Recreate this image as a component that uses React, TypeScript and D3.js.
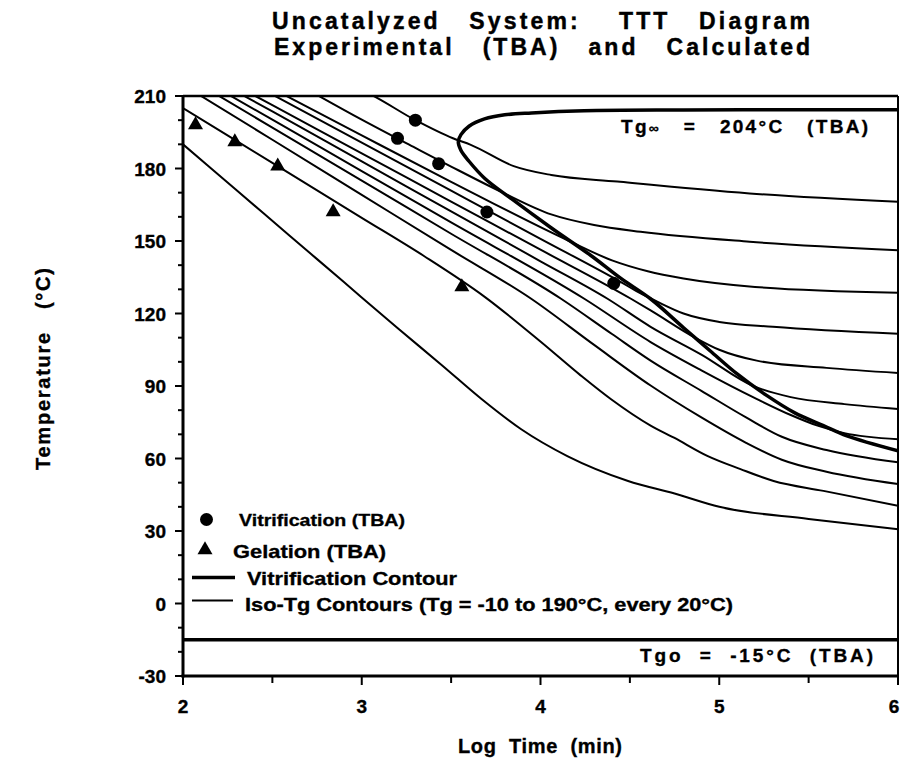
import React from "react";
import * as d3 from "d3";

type P = [number, number];

// ---- axis ticks ----
const LOG_TIME_TICKS = [2, 3, 4, 5, 6];
const TEMP_TICKS = [-30, 0, 30, 60, 90, 120, 150, 180, 210];

// ---- experimental points (log time, temperature) ----
const VITRIFICATION_TBA: P[] = [[3.2, 192.5], [3.3, 200], [3.43, 182], [3.7, 162], [4.41, 132.5]];
const GELATION_TBA: P[] = [[2.07, 198], [2.29, 191], [2.53, 181], [2.84, 162], [3.56, 131]];

// ---- iso-Tg contours ----
const ISO_TG_M10: P[] = [[2.0, 190], [2.3, 171], [2.6, 152], [2.9, 133], [3.2, 114], [3.45, 98.5], [3.67, 84.6], [3.89, 72.2], [4.15, 61], [4.49, 50.7], [4.75, 45.5], [5.0, 40], [5.5, 35], [6.0, 30.7]];
const ISO_TG_10: P[] = [[2.0, 205], [2.5, 182.3], [3.0, 159.6], [3.35, 143.7], [3.686, 127], [4.003, 108.2], [4.226, 94.3], [4.393, 84.6], [4.616, 73.6], [4.747, 68.6], [4.933, 61.1], [5.119, 55.6], [5.304, 50.7], [5.583, 46.6], [6.0, 40.4]];
const ISO_TG_30: P[] = [[2.0, 214.6], [2.5, 191.9], [3.0, 169.1], [3.5, 146.3], [3.948, 126.1], [4.3, 107], [4.616, 90.2], [4.9, 77], [5.15, 66.5], [5.35, 59.5], [5.6, 54.5], [6.0, 49.4]];
const ISO_TG_50: P[] = [[2.1, 214.5], [2.5, 196.9], [3.0, 175], [3.5, 153], [4.115, 126.1], [4.4, 111.5], [4.616, 100.5], [4.9, 88], [5.15, 77], [5.35, 69], [5.6, 63.5], [6.0, 58.4]];
const ISO_TG_70: P[] = [[2.15, 215], [2.5, 200.2], [3.0, 178.9], [3.5, 157.7], [4.245, 126.1], [4.616, 108.2], [4.9, 96.5], [5.2, 85], [5.4, 78], [5.55, 73.6], [5.7, 70.5], [6.0, 68]];
const ISO_TG_90: P[] = [[2.22, 215], [2.5, 203.6], [3.0, 182.9], [3.5, 162.3], [4.0, 141.6], [4.375, 126.1], [4.616, 114.5], [4.9, 103], [5.19, 90], [5.4, 85.4], [5.7, 82.5], [6.0, 80.5]];
const ISO_TG_110: P[] = [[2.28, 215], [2.5, 206.2], [3.0, 186.3], [3.5, 166.3], [4.0, 146.4], [4.506, 126.1], [4.616, 121.3], [4.865, 110], [5.0, 105], [5.21, 100.5], [5.6, 97.5], [6.0, 95.4]];
const ISO_TG_130: P[] = [[2.39, 215], [2.5, 210.6], [3.0, 190.7], [3.5, 170.8], [4.0, 150.9], [4.45, 133], [4.56, 128.3], [4.65, 125], [4.8, 120], [5.0, 116.5], [5.3, 114.5], [6.0, 111.6]];
const ISO_TG_150: P[] = [[2.45, 215], [3.0, 193.7], [3.5, 174.5], [4.16, 150], [4.4, 142], [4.6, 137.5], [4.8, 134.5], [5.2, 131], [6.0, 128.6]];
const ISO_TG_170: P[] = [[2.64, 215], [3.0, 200.2], [3.3, 188.5], [3.5, 180.8], [3.79, 170], [4.06, 161], [4.3, 156.6], [4.56, 153.8], [5.17, 149.7], [6.0, 146.2]];
const ISO_TG_190: P[] = [[2.95, 214], [3.04, 211], [3.3, 200], [3.51, 192.5], [3.61, 189.8], [3.85, 181], [4.06, 177.3], [4.43, 174.6], [5.17, 169.7], [6.0, 166.2]];

const ISO_TG_CONTOURS = [ISO_TG_M10, ISO_TG_10, ISO_TG_30, ISO_TG_50, ISO_TG_70, ISO_TG_90, ISO_TG_110, ISO_TG_130, ISO_TG_150, ISO_TG_170, ISO_TG_190];

// ---- vitrification contour (ordered along the curve) ----
const VITRIFICATION_CONTOUR: P[] = [
  [6.0, 204.3], [5.5, 204.3], [4.8, 204.2], [4.244, 203.9], [3.95, 203], [3.8, 202.2], [3.687, 200.5], [3.6, 197.5], [3.555, 194], [3.54, 191],
  [3.555, 187.5], [3.6, 183], [3.687, 176], [3.835, 167.6], [4.059, 155.5], [4.282, 144], [4.45, 134.5], [4.617, 126], [4.802, 114], [4.95, 104.5],
  [5.1, 95], [5.267, 86], [5.42, 79], [5.583, 73.6], [5.714, 69.4], [6.0, 63.2],
];

const TGO = -15;

const FONT = "'Liberation Sans', Arial, Helvetica, sans-serif";
const S = "\u00A0";

export default function App() {
  const W = 901, H = 777;
  const x = d3.scaleLinear().domain([2, 6]).range([183, 898]);
  const y = d3.scaleLinear().domain([-30, 210]).range([676, 96]);
  const [x0, x1] = x.range();
  const [yb, yt] = y.range();

  const isoLine = d3.line<P>().x(d => x(d[0])).y(d => y(d[1])).curve(d3.curveMonotoneX);
  const vitLine = d3.line<P>().x(d => x(d[0])).y(d => y(d[1])).curve(d3.curveCatmullRom.alpha(0.5));

  const yMinor = d3.range(-30, 211, 10);
  const xMinor = d3.range(2, 6.01, 0.5);

  const tri = (cx: number, cy: number) => {
    const b = 7.5, h = 13;
    return `M${cx},${cy - h * 2 / 3}L${cx + b},${cy + h / 3}L${cx - b},${cy + h / 3}Z`;
  };

  const txt = { fontFamily: FONT, fontWeight: 700, fill: "#000", stroke: "#000", strokeWidth: 0.35 };

  return (
    <svg width={W} height={H} style={{ position: "absolute", left: 0, top: 0, background: "#fff" }}>
      <defs>
        <clipPath id="plot">
          <rect x={x0} y={yt} width={x1 - x0} height={yb - yt} />
        </clipPath>
      </defs>
      <rect x={0} y={0} width={W} height={H} fill="#fff" />

      {/* title */}
      <text {...txt} strokeWidth={0.45} fontSize={23} x={272} y={29} textLength={538} lengthAdjust="spacing">
        {`Uncatalyzed${S}${S}${S}System:${S}${S}${S}${S}TTT${S}${S}${S}Diagram`}
      </text>
      <text {...txt} strokeWidth={0.45} fontSize={23} x={274} y={55} textLength={536} lengthAdjust="spacing">
        {`Experimental${S}${S}${S}(TBA)${S}${S}${S}and${S}${S}${S}Calculated`}
      </text>

      <g clipPath="url(#plot)">
        {ISO_TG_CONTOURS.map((c, i) => (
          <path key={i} d={isoLine(c) || ""} fill="none" stroke="#000" strokeWidth={2} />
        ))}
        <path d={vitLine(VITRIFICATION_CONTOUR) || ""} fill="none" stroke="#000" strokeWidth={3.5} />
        <line x1={x0} x2={x1} y1={y(TGO)} y2={y(TGO)} stroke="#000" strokeWidth={3.5} />
      </g>

      {VITRIFICATION_TBA.map((d, i) => (
        <circle key={i} cx={x(d[0])} cy={y(d[1])} r={6.5} fill="#000" />
      ))}
      {GELATION_TBA.map((d, i) => (
        <path key={i} d={tri(x(d[0]), y(d[1]))} fill="#000" />
      ))}

      {/* frame */}
      <line x1={x0} x2={x1} y1={yt} y2={yt} stroke="#000" strokeWidth={2.5} />
      <line x1={x1} x2={x1} y1={yt} y2={yb} stroke="#000" strokeWidth={2} />
      <line x1={x0} x2={x0} y1={yt - 1} y2={yb + 1.5} stroke="#000" strokeWidth={3} />
      <line x1={x0 - 1.5} x2={x1 + 1} y1={yb} y2={yb} stroke="#000" strokeWidth={3} />

      {/* y ticks */}
      {yMinor.map(v => (
        <line key={v} x1={x0} x2={x0 - (v % 30 === 0 ? 8 : 5)} y1={y(v)} y2={y(v)} stroke="#000" strokeWidth={2} />
      ))}
      {TEMP_TICKS.map(v => (
        <text key={v} {...txt} fontSize={19} x={166} y={y(v) + 7} textAnchor="end">{v}</text>
      ))}
      {/* x ticks */}
      {xMinor.map(v => (
        <line key={v} x1={x(v)} x2={x(v)} y1={yb} y2={yb + (Number.isInteger(v) ? 9 : 7)} stroke="#000" strokeWidth={2} />
      ))}
      {LOG_TIME_TICKS.map(v => (
        <text key={v} {...txt} fontSize={19} x={Math.min(x(v), 894)} y={713} textAnchor="middle">{v}</text>
      ))}

      {/* annotations */}
      <text {...txt} fontSize={19} x={621} y={133} textLength={247} lengthAdjust="spacing">
        {"Tg"}<tspan fontSize={14}>{"\u221E"}</tspan>{`${S}${S}${S}=${S}${S}${S}204\u00B0C${S}${S}${S}(TBA)`}
      </text>
      <text {...txt} fontSize={19} x={640} y={662} textLength={233} lengthAdjust="spacing">
        {`Tgo${S}${S}=${S}${S}-15\u00B0C${S}${S}(TBA)`}
      </text>

      {/* legend */}
      <circle cx={206.5} cy={519.5} r={6.5} fill="#000" />
      <text {...txt} fontSize={17} x={239} y={526} textLength={166} lengthAdjust="spacingAndGlyphs">Vitrification (TBA)</text>
      <path d={tri(205, 550)} fill="#000" />
      <text {...txt} fontSize={19} x={233} y={558} textLength={153} lengthAdjust="spacingAndGlyphs">Gelation (TBA)</text>
      <line x1={192} x2={235} y1={577.5} y2={577.5} stroke="#000" strokeWidth={3.5} />
      <text {...txt} fontSize={19} x={247} y={585} textLength={210} lengthAdjust="spacingAndGlyphs">Vitrification Contour</text>
      <line x1={192} x2={233} y1={600.5} y2={600.5} stroke="#000" strokeWidth={2} />
      <text {...txt} fontSize={19} x={245} y={610.5} textLength={488} lengthAdjust="spacingAndGlyphs">{"Iso-Tg Contours (Tg = -10 to 190\u00B0C, every 20\u00B0C)"}</text>

      {/* axis titles */}
      <text {...txt} fontSize={20} textAnchor="middle" transform={`translate(50,369) rotate(-90)`} textLength={202} lengthAdjust="spacing">
        {`Temperature${S}${S}${S}(\u00B0C)`}
      </text>
      <text {...txt} fontSize={20} textAnchor="middle" x={540} y={753} textLength={164} lengthAdjust="spacing">
        {`Log${S}${S}Time${S}${S}(min)`}
      </text>
    </svg>
  );
}
